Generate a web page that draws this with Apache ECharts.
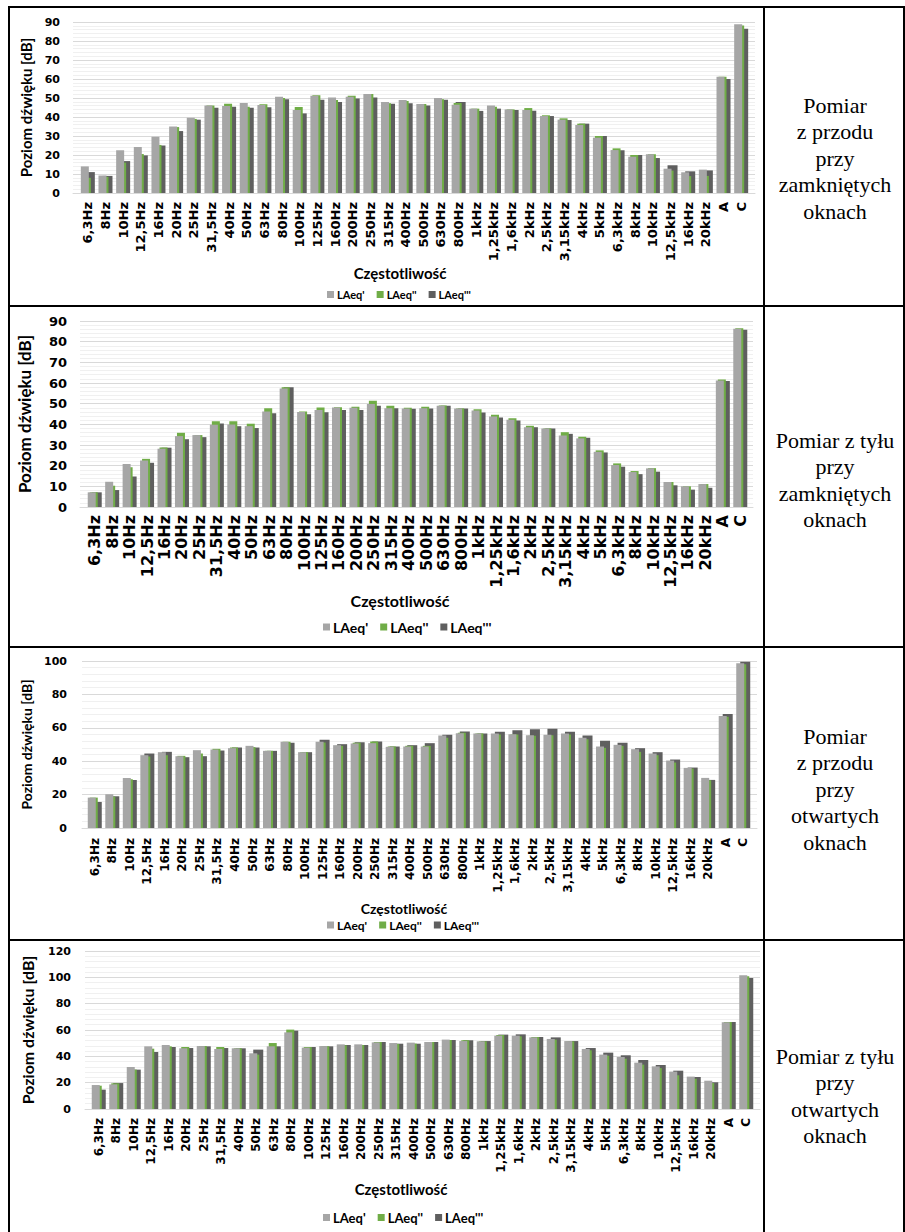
<!DOCTYPE html>
<html>
<head>
<meta charset="utf-8">
<script src="https://cdn.jsdelivr.net/npm/echarts@6/dist/echarts.min.js"></script>
<style>
  html, body { margin: 0; padding: 0; background: #fff; }
  #chart { width: 905px; height: 1232px; }
</style>
</head>
<body>
<div id="chart"></div>
<script>
// Third-octave bands plus the A / C weighted totals
const categories = ['6,3Hz','8Hz','10Hz','12,5Hz','16Hz','20Hz','25Hz','31,5Hz','40Hz','50Hz','63Hz','80Hz',
  '100Hz','125Hz','160Hz','200Hz','250Hz','315Hz','400Hz','500Hz','630Hz','800Hz','1kHz','1,25kHz','1,6kHz',
  '2kHz','2,5kHz','3,15kHz','4kHz','5kHz','6,3kHz','8kHz','10kHz','12,5kHz','16kHz','20kHz','A','C'];

const seriesNames = ["LAeq'", "LAeq''", "LAeq'''"];

// Front, windows closed
const frontClosed1 = [14, 9.2, 22.5, 24.2, 29.6, 35, 39.6, 46.1, 45.8, 47.4, 46.3, 50.7, 43.7, 51.2, 50.2, 50.7, 52.1, 47.9, 48.9, 46.8, 50, 46.5, 44.4, 46, 44, 43.7, 40.5, 38.6, 35.8, 29.1, 22.6, 19.1, 20.4, 12.8, 10.9, 12.3, 61.2, 88.8];
const frontClosed2 = [8, 8.5, 16, 20.5, 25.3, 34.7, 39, 46.1, 47, 45.4, 46.7, 50, 45.3, 51.4, 49, 51.2, 52.1, 47.2, 48.4, 46.8, 49.3, 47.4, 44.4, 45.4, 44, 44.7, 40.9, 39.3, 36.5, 30, 23.5, 20, 20.4, 11.8, 8.9, 9, 61.2, 88.1];
const frontClosed3 = [11, 9, 16.8, 19.8, 25, 32.6, 38.6, 44.9, 45.4, 44.9, 45.1, 49.3, 41.9, 49.1, 47.9, 49.8, 50.2, 47, 47.2, 46.1, 49.1, 47.9, 43.2, 44.4, 43.7, 43.3, 40.5, 38.4, 36.5, 30, 22.5, 20, 18.4, 14.6, 11.4, 11.9, 60, 86.5];

// Back, windows closed
const backClosed1 = [7.1, 12.2, 20.8, 22.5, 28.2, 34.3, 34.8, 39.8, 39.9, 39.1, 46.2, 57.3, 46.0, 46.9, 48.1, 48.0, 49.8, 47.8, 47.7, 47.8, 49.0, 47.7, 46.7, 43.8, 42.2, 38.6, 38.0, 34.6, 33.2, 26.7, 20.3, 16.9, 18.7, 12.1, 10.0, 11.1, 61.2, 86.3];
const backClosed2 = [7.1, 10.3, 19.2, 23.3, 28.8, 35.9, 34.8, 41.5, 41.5, 40.3, 47.8, 57.9, 46.2, 48.1, 48.3, 48.5, 51.4, 49.0, 48.0, 48.5, 49.1, 47.7, 47.3, 44.6, 43.0, 39.3, 38.0, 36.2, 34.0, 27.4, 21.1, 17.4, 18.8, 12.1, 10.0, 11.1, 61.7, 86.5];
const backClosed3 = [7.1, 8.2, 14.8, 21.4, 28.7, 32.8, 33.8, 40.4, 39.1, 38.2, 45.4, 57.9, 44.9, 45.9, 46.9, 46.9, 49.0, 47.8, 47.5, 47.7, 49.0, 47.7, 45.7, 43.3, 41.9, 38.6, 38.0, 35.4, 33.5, 26.4, 19.5, 15.9, 17.1, 10.5, 8.4, 9.3, 61.0, 85.8];

// Front, windows open
const frontOpen1 = [18.2, 20.2, 30, 43.6, 45.4, 43, 46.6, 47, 47.8, 49.2, 46.2, 51.6, 45.4, 51.6, 49.6, 50.6, 50.8, 48.6, 48.8, 48.8, 55.4, 56.8, 56.6, 56.6, 56.2, 55.6, 55.8, 56.6, 54, 48.8, 49.8, 47.2, 44.6, 40.4, 36, 30, 67, 98.6];
const frontOpen2 = [18.2, 18.8, 29.2, 42.8, 43.6, 43.2, 44.6, 47.4, 48.2, 48.4, 46.2, 51.6, 45.4, 51.2, 49.2, 51, 51.8, 48.8, 49.2, 49.2, 54, 57, 56.6, 56, 56, 55.2, 55.6, 56, 53.2, 48, 49.2, 45.6, 43.6, 39.2, 35.6, 28.6, 66.6, 98];
const frontOpen3 = [15.6, 19, 28.8, 44.6, 45.6, 42.4, 43, 46.4, 48.2, 48.2, 46.2, 51, 45.4, 52.8, 50.2, 51.4, 51.8, 48.8, 49.6, 50.8, 55.8, 57.8, 56.6, 57.6, 58.6, 59.2, 59.4, 57.6, 55.4, 52.2, 51, 47.8, 45.4, 41, 36.2, 28.8, 68.2, 99.6];

// Back, windows open
const backOpen1 = [18.2, 18.7, 31.9, 47.6, 48.6, 46.1, 47.8, 45.6, 46.1, 42.3, 47.6, 58.2, 46.6, 47.8, 49.1, 49.1, 50.6, 50.1, 50.4, 50.9, 52.7, 51.6, 51.4, 55.7, 55.7, 54.4, 53.2, 51.6, 45.6, 41.3, 39.5, 35.2, 32.4, 28.4, 24.6, 21.5, 65.8, 101.5];
const backOpen2 = [17.7, 19.5, 29.9, 45.8, 47.6, 47.1, 47.8, 47.1, 46.1, 41.3, 50.1, 60.3, 47.1, 47.6, 48.4, 48.6, 50.9, 49.4, 49.6, 50.9, 52.4, 52.2, 51.4, 56.2, 55.2, 54.7, 52.7, 51.4, 44.6, 40.5, 38.2, 33.7, 31.1, 25.6, 23, 19.7, 66.1, 100.8];
const backOpen3 = [14.7, 19.7, 29.9, 43.3, 47.1, 46.3, 47.6, 46.3, 46.1, 45.1, 47.6, 59.5, 47.1, 47.6, 48.6, 48.6, 50.9, 49.6, 49.6, 50.9, 52.4, 52.2, 51.6, 56.5, 56.7, 54.7, 54.4, 51.6, 46.3, 42.8, 40.8, 37.2, 33.4, 29.1, 24.3, 20.3, 66.1, 99.5];

// Value axis ranges per panel
const yAxisMax  = [90, 90, 100, 120];
const yAxisStep = [10, 10, 20, 20];

const yAxisTitle = 'Poziom dźwięku [dB]';
const xAxisTitle = 'Częstotliwość';

const captions = [
  ['Pomiar', 'z przodu', 'przy', 'zamkniętych', 'oknach'],
  ['Pomiar z tyłu', 'przy', 'zamkniętych', 'oknach'],
  ['Pomiar', 'z przodu', 'przy', 'otwartych', 'oknach'],
  ['Pomiar z tyłu', 'przy', 'otwartych', 'oknach']
];

const panelData = [
  [frontClosed1, frontClosed2, frontClosed3],
  [backClosed1, backClosed2, backClosed3],
  [frontOpen1, frontOpen2, frontOpen3],
  [backOpen1, backOpen2, backOpen3]
];

// Page layout of each panel (pixels). wallL/wallR: extent of the back wall gridlines.
const layout = [
  { left: 79, right: 750, wallL: 73, wallR: 755, top: 22,  bottom: 193,  tick: 11, xl: 13,   xm: 9,  yt: 15, ytX: 33, xt: 15, xtX: 400, xtY: 273,  lg: 11, lgX: 322, lgY: 284, capY: 158 },
  { left: 86, right: 749, wallL: 80, wallR: 753, top: 321, bottom: 507,  tick: 13, xl: 16,   xm: 8,  yt: 17, ytX: 33, xt: 16, xtX: 400, xtY: 600,  lg: 14, lgX: 318, lgY: 615, capY: 480 },
  { left: 86, right: 752, wallL: 82, wallR: 757, top: 661, bottom: 828,  tick: 11, xl: 12,   xm: 10, yt: 14, ytX: 33, xt: 14, xtX: 404, xtY: 908,  lg: 12, lgX: 322, lgY: 914, capY: 789 },
  { left: 90, right: 755, wallL: 85, wallR: 760, top: 951, bottom: 1109, tick: 11, xl: 12,   xm: 9,  yt: 16, ytX: 35, xt: 15, xtX: 401, xtY: 1189, lg: 13, lgX: 318, lgY: 1206, capY: 1096 }
];

const colors = ['#a6a6a6', '#70ad47', '#5f5f5f'];
const barWidths = [8, 8, 10];
const TITLE_FONT = 'Lato';
const TICK_FONT = '"DejaVu Sans"';

const grid = [], xAxis = [], yAxis = [], series = [], legend = [], graphic = [];

layout.forEach(function (L, i) {
  // back wall: gridlines and floor line only
  grid.push({ left: L.wallL, top: L.top, width: L.wallR - L.wallL, height: L.bottom - L.top });
  xAxis.push({
    type: 'category', gridIndex: 2 * i, data: categories, silent: true,
    axisLine: { show: true, lineStyle: { color: '#d9d9d9', width: 1 } },
    axisTick: { show: false }, axisLabel: { show: false }
  });
  yAxis.push({
    type: 'value', gridIndex: 2 * i, min: 0, max: yAxisMax[i], interval: yAxisStep[i], silent: true,
    axisLine: { show: false }, axisTick: { show: false }, axisLabel: { show: false },
    splitLine: { show: true, lineStyle: { color: '#d9d9d9', width: 1 } },
    minorTick: { show: false, splitNumber: 5 },
    minorSplitLine: { show: true, lineStyle: { color: '#f0f0f0', width: 1 } }
  });

  // columns, tick labels and axis titles
  grid.push({ left: L.left, top: L.top, width: L.right - L.left, height: L.bottom - L.top });
  xAxis.push({
    type: 'category', gridIndex: 2 * i + 1, data: categories, boundaryGap: true,
    axisLine: { show: false }, axisTick: { show: false },
    axisLabel: { interval: 0, rotate: 90, margin: L.xm, color: '#000', fontFamily: TICK_FONT, fontWeight: 'bold', fontSize: L.xl }
  });
  yAxis.push({
    type: 'value', gridIndex: 2 * i + 1, min: 0, max: yAxisMax[i], interval: yAxisStep[i],
    name: yAxisTitle, nameLocation: 'middle', nameGap: L.left - L.ytX, nameRotate: 90,
    nameTextStyle: { color: '#000', fontFamily: TITLE_FONT, fontWeight: 'bold', fontSize: L.yt },
    axisLine: { show: false }, axisTick: { show: false }, splitLine: { show: false },
    axisLabel: { margin: 19, color: '#000', fontFamily: TICK_FONT, fontWeight: 'bold', fontSize: L.tick }
  });
  panelData[i].forEach(function (values, k) {
    series.push({
      name: seriesNames[k], type: 'bar', xAxisIndex: 2 * i + 1, yAxisIndex: 2 * i + 1,
      data: values, barWidth: barWidths[k], barGap: '-75%',
      z: 4 - k, itemStyle: { color: colors[k] },
      emphasis: { disabled: true }, animation: false
    });
  });
  legend.push({
    data: seriesNames, left: L.lgX, top: L.lgY, icon: 'rect', itemWidth: 7, itemHeight: 7, itemGap: 12,
    textStyle: { color: '#000', fontFamily: TITLE_FONT, fontWeight: 'bold', fontSize: L.lg, padding: [0, 0, 0, -2] }
  });
  graphic.push({
    type: 'text', x: L.xtX, y: L.xtY, silent: true,
    style: { text: xAxisTitle, fill: '#000', font: 'bold ' + L.xt + 'px ' + TITLE_FONT,
             align: 'center', verticalAlign: 'middle', textAlign: 'center', textVerticalAlign: 'middle' }
  });
  graphic.push({
    type: 'text', x: 835, y: L.capY, silent: true,
    style: { text: captions[i].join('\n'), fill: '#000', font: '22px "Liberation Serif"', lineHeight: 26.5,
             align: 'center', verticalAlign: 'middle', textAlign: 'center', textVerticalAlign: 'middle' }
  });
});

// Table rules
const rowEdges = [7, 306, 647, 940];
rowEdges.forEach(function (y) {
  graphic.push({ type: 'line', silent: true, shape: { x1: 8, y1: y, x2: 905, y2: y }, style: { stroke: '#000', lineWidth: 2 } });
});
[9, 764, 904].forEach(function (x) {
  graphic.push({ type: 'line', silent: true, shape: { x1: x, y1: 6, x2: x, y2: 1232 }, style: { stroke: '#000', lineWidth: 2 } });
});

const chart = echarts.init(document.getElementById('chart'), null, { renderer: 'svg' });
chart.setOption({
  animation: false,
  backgroundColor: '#fff',
  grid: grid, xAxis: xAxis, yAxis: yAxis, series: series, legend: legend, graphic: graphic
});
</script>
</body>
</html>
